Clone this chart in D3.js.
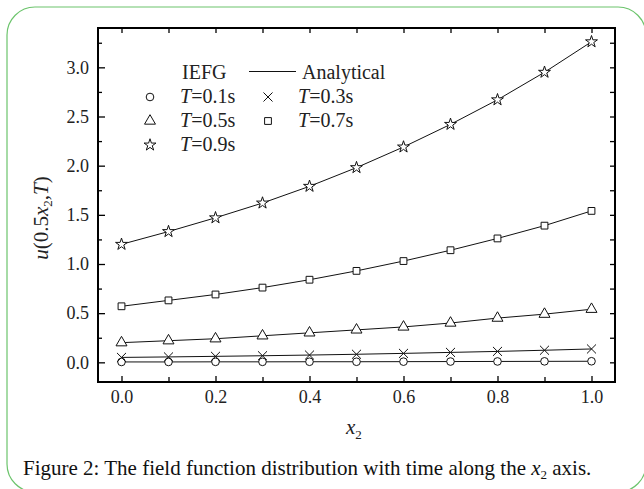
<!DOCTYPE html>
<html>
<head>
<meta charset="utf-8">
<script src="https://cdn.jsdelivr.net/npm/d3@7"></script>
<style>
  html, body { margin: 0; padding: 0; background: #fff; }
  svg { display: block; }
</style>
</head>
<body>
<div id="chart"></div>
<script>
// data
var x2 = [0.0, 0.1, 0.2, 0.3, 0.4, 0.5, 0.6, 0.7, 0.8, 0.9, 1.0];
var uT01 = [0.004, 0.004, 0.005, 0.005, 0.006, 0.006, 0.007, 0.008, 0.009, 0.010, 0.011];
var uT03 = [0.050, 0.055, 0.061, 0.067, 0.074, 0.082, 0.091, 0.101, 0.111, 0.123, 0.136];
var uT05 = [0.20, 0.22, 0.24, 0.27, 0.30, 0.33, 0.36, 0.40, 0.45, 0.49, 0.54];
var uT07 = [0.57, 0.63, 0.69, 0.76, 0.84, 0.93, 1.03, 1.14, 1.26, 1.39, 1.54];
var uT09 = [1.20, 1.33, 1.47, 1.62, 1.79, 1.98, 2.19, 2.42, 2.67, 2.95, 3.26];

var xTickValues = [0.0, 0.2, 0.4, 0.6, 0.8, 1.0];
var xMinorTicks = [0.1, 0.3, 0.5, 0.7, 0.9];
var yTickValues = [0.0, 0.5, 1.0, 1.5, 2.0, 2.5, 3.0];
var yMinorTicks = [0.25, 0.75, 1.25, 1.75, 2.25, 2.75, 3.25];

var seriesList = [
    { name: "T=0.1s", values: uT01, symbol: "circle" },
    { name: "T=0.3s", values: uT03, symbol: "times" },
    { name: "T=0.5s", values: uT05, symbol: "triangle" },
    { name: "T=0.7s", values: uT07, symbol: "square" },
    { name: "T=0.9s", values: uT09, symbol: "star" }
];

var width = 644, height = 489;
var margins = { left: 98, right: 29, top: 28, bottom: 107 };
var serif = "'Liberation Serif', 'Times New Roman', serif";

var svg = d3.select("#chart").append("svg")
    .attr("width", width)
    .attr("height", height)
    .style("font-family", serif);

// green rounded frame around figure + caption
svg.append("rect")
    .attr("x", 7).attr("y", 7)
    .attr("width", 639).attr("height", 485)
    .attr("rx", 28).attr("ry", 28)
    .style("fill", "none")
    .style("stroke", "#6cc46c")
    .style("stroke-width", 1.2);

var x = d3.scaleLinear().domain([-0.05, 1.05]).range([margins.left, width - margins.right]);
var y = d3.scaleLinear().domain([-0.2, 3.4]).range([height - margins.bottom, margins.top]);

var plotBottom = height - margins.bottom,
    plotRight = width - margins.right;

function tidy(g) {
    g.select(".domain").remove();
    g.selectAll(".tick line").style("stroke", "#000").style("stroke-width", 1.3);
    g.selectAll("text").style("font-family", serif).style("font-size", "18px").style("fill", "#222");
}

// bottom axis (ticks point inward)
svg.append("g")
    .attr("transform", "translate(0," + plotBottom + ")")
    .call(d3.axisBottom(x).tickValues(xTickValues).tickSize(-6).tickPadding(8).tickFormat(d3.format(".1f")))
    .call(tidy);
svg.append("g")
    .attr("transform", "translate(0," + plotBottom + ")")
    .call(d3.axisBottom(x).tickValues(xMinorTicks).tickSize(-5).tickFormat(""))
    .call(tidy);
// top axis
svg.append("g")
    .attr("transform", "translate(0," + margins.top + ")")
    .call(d3.axisTop(x).tickValues(xTickValues.concat(xMinorTicks)).tickSize(-5).tickFormat(""))
    .call(tidy);
// left axis
svg.append("g")
    .attr("transform", "translate(" + margins.left + ",0)")
    .call(d3.axisLeft(y).tickValues(yTickValues).tickSize(-7).tickPadding(9).tickFormat(d3.format(".1f")))
    .call(tidy);
svg.append("g")
    .attr("transform", "translate(" + margins.left + ",0)")
    .call(d3.axisLeft(y).tickValues(yMinorTicks).tickSize(-4).tickFormat(""))
    .call(tidy);
// right axis
svg.append("g")
    .attr("transform", "translate(" + plotRight + ",0)")
    .call(d3.axisRight(y).tickValues(yTickValues.concat(yMinorTicks)).tickSize(-5).tickFormat(""))
    .call(tidy);

// plot frame
svg.append("rect")
    .attr("x", margins.left).attr("y", margins.top)
    .attr("width", plotRight - margins.left)
    .attr("height", plotBottom - margins.top)
    .style("fill", "none")
    .style("stroke", "#000")
    .style("stroke-width", 2);

var symbolTypes = {
    circle: { type: d3.symbolCircle, size: 46 },
    times: { type: d3.symbolTimes, size: 55 },
    triangle: { type: d3.symbolTriangle, size: 52 },
    square: { type: d3.symbolSquare, size: 46 },
    star: { type: d3.symbolStar, size: 44 }
};
function symbolPath(name) {
    return d3.symbol().type(symbolTypes[name].type).size(symbolTypes[name].size)();
}

var line = d3.line()
    .x(function(d, i) { return x(x2[i]); })
    .y(function(d) { return y(d); });

var gData = svg.append("g");
seriesList.forEach(function(s) {
    gData.append("path")
        .attr("d", line(s.values))
        .style("fill", "none")
        .style("stroke", "#111")
        .style("stroke-width", 1);
});
seriesList.forEach(function(s) {
    gData.selectAll(null)
        .data(s.values)
        .enter().append("path")
        .attr("d", symbolPath(s.symbol))
        .attr("transform", function(d, i) { return "translate(" + x(x2[i]) + "," + y(d) + ")"; })
        .style("fill", s.symbol === "times" ? "none" : "#fff")
        .style("stroke", "#111")
        .style("stroke-width", 1);
});

// legend
var legend = svg.append("g").style("font-size", "20px").style("fill", "#222");
legend.append("text").attr("x", 182).attr("y", 79).text("IEFG");
legend.append("line")
    .attr("x1", 249).attr("x2", 296).attr("y1", 71.5).attr("y2", 71.5)
    .style("stroke", "#111").style("stroke-width", 1);
legend.append("text").attr("x", 302).attr("y", 79).text("Analytical");

var legendPos = [
    { mx: 150, my: 97 }, { mx: 268, my: 97 },
    { mx: 150, my: 121 }, { mx: 268, my: 121 },
    { mx: 150, my: 145 }
];
seriesList.forEach(function(s, i) {
    var p = legendPos[i];
    legend.append("path")
        .attr("d", symbolPath(s.symbol))
        .attr("transform", "translate(" + p.mx + "," + p.my + ")")
        .style("fill", s.symbol === "times" ? "none" : "#fff")
        .style("stroke", "#111");
    var t = legend.append("text").attr("x", p.mx + 30).attr("y", p.my + 6);
    t.append("tspan").style("font-style", "italic").text("T");
    t.append("tspan").text(s.name.slice(1));
});

// y axis title
var yTitle = svg.append("text")
    .attr("transform", "translate(48,218) rotate(-90)")
    .attr("text-anchor", "middle")
    .style("font-size", "21px")
    .style("fill", "#222");
yTitle.append("tspan").style("font-style", "italic").text("u");
yTitle.append("tspan").text("(0.5");
yTitle.append("tspan").style("font-style", "italic").text("x");
yTitle.append("tspan").attr("dy", 4).style("font-size", "13px").text("2");
yTitle.append("tspan").attr("dy", -4).text(",");
yTitle.append("tspan").style("font-style", "italic").text("T");
yTitle.append("tspan").text(")");

// x axis title
var xTitle = svg.append("text")
    .attr("x", 346).attr("y", 434)
    .style("font-size", "21px")
    .style("fill", "#222");
xTitle.append("tspan").style("font-style", "italic").text("x");
xTitle.append("tspan").attr("dy", 5).style("font-size", "13px").text("2");

// caption
var caption = svg.append("text")
    .attr("x", 23).attr("y", 475)
    .style("font-size", "21px")
    .style("fill", "#111");
caption.append("tspan").text("Figure 2: The field function distribution with time along the ");
caption.append("tspan").style("font-style", "italic").text("x");
caption.append("tspan").attr("dy", 4).style("font-size", "13px").text("2");
caption.append("tspan").attr("dy", -4).text(" axis.");
</script>
</body>
</html>
